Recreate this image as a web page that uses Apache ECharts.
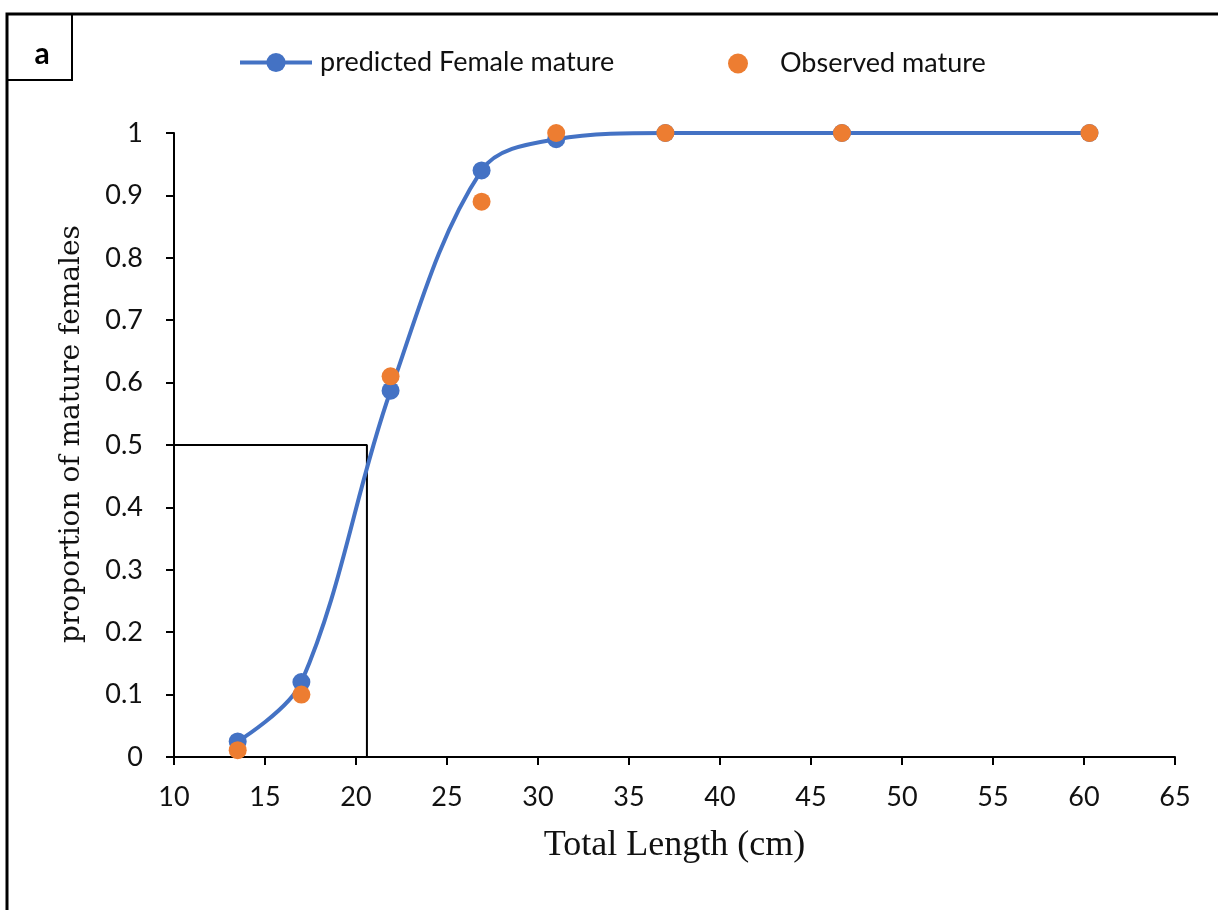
<!DOCTYPE html>
<html>
<head>
<meta charset="utf-8">
<script src="https://cdn.jsdelivr.net/npm/echarts@6/dist/echarts.min.js"></script>
<style>
html,body{margin:0;padding:0;background:#fff;}
#chart{width:1218px;height:910px;}
</style>
</head>
<body>
<div id="chart"></div>
<script>
// Data
var lengths = [13.5, 17, 21.9, 26.9, 31, 37, 46.7, 60.3];
var predicted = [0.025, 0.12, 0.587, 0.94, 0.99, 1, 1, 1];
var observed = [0.011, 0.1, 0.61, 0.89, 1, 1, 1, 1];
var l50 = 20.6;
var halfLevel = 0.5;
var seriesNames = ['predicted Female mature', 'Observed mature'];
var xTitle = 'Total Length (cm)';
var yTitle = 'proportion of mature females';
var panelLabel = 'a';

var predPairs = lengths.map(function (x, i) { return [x, predicted[i]]; });
var obsPairs = lengths.map(function (x, i) { return [x, observed[i]]; });

var chart = echarts.init(document.getElementById('chart'), null, {renderer: 'canvas'});
var BLUE = '#4472C4', ORANGE = '#ED7D31';
var tickFont = 'Lato';

chart.setOption({
  backgroundColor: '#fff',
  animation: false,
  grid: {left: 174, right: 43, top: 133, bottom: 153, containLabel: false},
  legend: [
    {data: [seriesNames[0]], left: 238, top: 49, padding: 0, itemWidth: 72, itemHeight: 24,
     lineStyle: {width: 4},
     textStyle: {fontFamily: tickFont, fontSize: 27, color: '#111', padding: [0, 0, 0, 3]}},
    {data: [seriesNames[1]], left: 728, top: 50, padding: 0, itemWidth: 20, itemHeight: 20,
     textStyle: {fontFamily: tickFont, fontSize: 27, color: '#111', padding: [0, 0, 0, 27]}}
  ],
  xAxis: {
    type: 'value', min: 10, max: 65, interval: 5,
    name: xTitle, nameLocation: 'middle', nameGap: 71,
    nameTextStyle: {fontFamily: 'Liberation Serif', fontSize: 36, color: '#111'},
    axisLine: {show: true, onZero: false, lineStyle: {color: '#000', width: 2}},
    axisTick: {show: true, inside: false, length: 8, lineStyle: {color: '#000', width: 2}},
    axisLabel: {margin: 27, fontFamily: tickFont, fontSize: 27, color: '#111'},
    splitLine: {show: false}
  },
  yAxis: {
    type: 'value', min: 0, max: 1, interval: 0.1,
    name: yTitle, nameLocation: 'middle', nameGap: 88, nameRotate: 90,
    nameTextStyle: {fontFamily: 'DejaVu Serif', fontSize: 28, color: '#111', padding: [0, 0, 0, 22]},
    axisLine: {show: true, lineStyle: {color: '#000', width: 2}},
    axisTick: {show: true, inside: false, length: 8, lineStyle: {color: '#000', width: 2}},
    axisLabel: {margin: 31, fontFamily: tickFont, fontSize: 27, color: '#111'},
    splitLine: {show: false}
  },
  series: [
    {
      name: 'L50', type: 'line', data: [[10, halfLevel], [l50, halfLevel], [l50, 0]],
      showSymbol: false, symbol: 'none', silent: true, z: 1,
      lineStyle: {color: '#000', width: 2}
    },
    {
      name: seriesNames[0], type: 'line', data: predPairs, smooth: 0.35,
      symbol: 'circle', symbolSize: 18, showSymbol: true, z: 2,
      lineStyle: {color: BLUE, width: 4},
      itemStyle: {color: BLUE, opacity: 1}
    },
    {
      name: seriesNames[1], type: 'scatter', data: obsPairs,
      symbol: 'circle', symbolSize: 18, z: 3,
      itemStyle: {color: ORANGE, opacity: 1}
    }
  ],
  graphic: [
    {type: 'polyline', shape: {points: [[7, 910], [7, 14], [1218, 14]]},
     style: {stroke: '#000', lineWidth: 3, fill: null}, z: 10},
    {type: 'rect', shape: {x: 7, y: 14, width: 65, height: 66},
     style: {stroke: '#000', lineWidth: 2, fill: null}, z: 10},
    {type: 'text', x: 42, y: 54,
     style: {text: panelLabel, fontFamily: tickFont, fontWeight: 'bold', fontSize: 30,
             fill: '#000', align: 'center', verticalAlign: 'middle'}, z: 10}
  ]
});
</script>
</body>
</html>
